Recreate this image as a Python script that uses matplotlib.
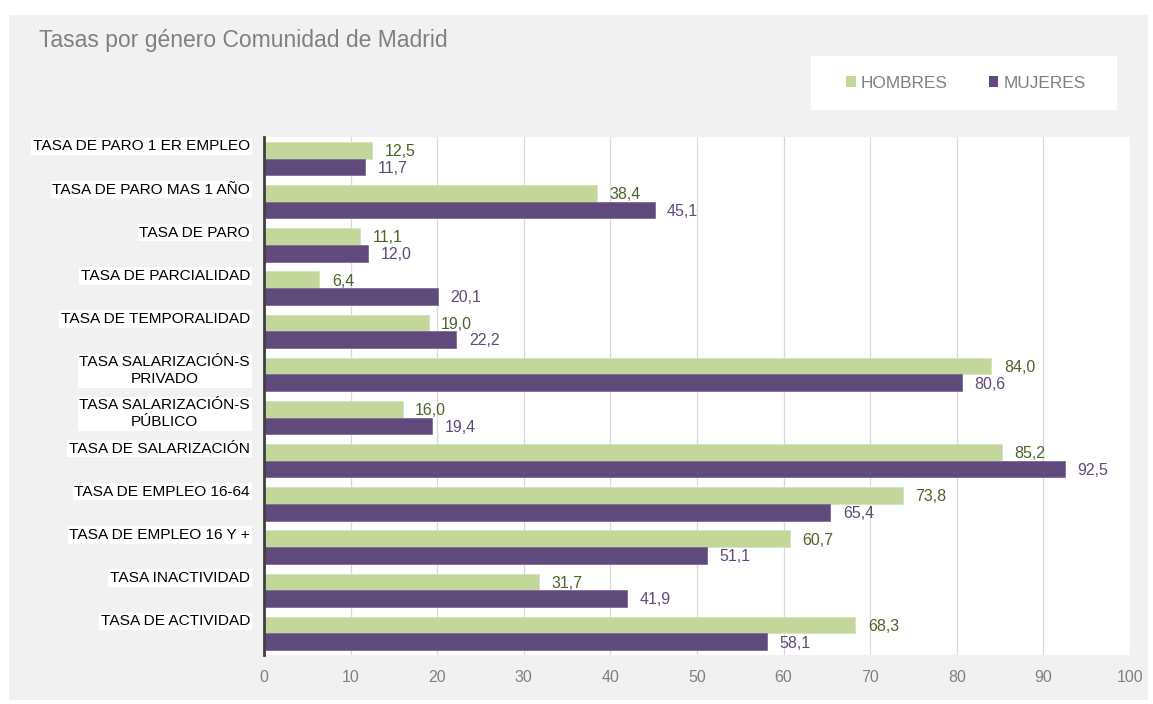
import matplotlib
matplotlib.use("Agg")
import matplotlib.pyplot as plt
from matplotlib.patches import Rectangle, Patch
import numpy as np

plt.rcParams['font.family'] = ['Liberation Sans', 'DejaVu Sans']

categories = [
    "TASA DE PARO 1 ER EMPLEO",
    "TASA DE PARO MAS 1 AÑO",
    "TASA DE PARO",
    "TASA DE PARCIALIDAD",
    "TASA DE TEMPORALIDAD",
    "TASA SALARIZACIÓN-S\nPRIVADO",
    "TASA SALARIZACIÓN-S\nPÚBLICO",
    "TASA DE SALARIZACIÓN",
    "TASA DE EMPLEO 16-64",
    "TASA DE EMPLEO 16 Y +",
    "TASA INACTIVIDAD",
    "TASA DE ACTIVIDAD",
]
hombres = [12.5, 38.4, 11.1, 6.4, 19.0, 84.0, 16.0, 85.2, 73.8, 60.7, 31.7, 68.3]
mujeres = [11.7, 45.1, 12.0, 20.1, 22.2, 80.6, 19.4, 92.5, 65.4, 51.1, 41.9, 58.1]
series_names = ["HOMBRES", "MUJERES"]
xticks = list(range(0, 101, 10))

c_h = "#c4d79b"
c_m = "#604a7b"
c_h_lab = "#4f6228"
c_m_lab = "#604a7b"

W, H = 1153, 704
fig = plt.figure(figsize=(W / 100, H / 100), dpi=100)
fig.patch.set_facecolor("white")

# gray panel
fig.patches.append(Rectangle((9 / W, 1 - 700 / H), (1148 - 9) / W, (700 - 15) / H,
                             transform=fig.transFigure, facecolor="#f1f1f1",
                             edgecolor="none", zorder=-2))
# legend white box
fig.patches.append(Rectangle((811 / W, 1 - 110 / H), (1117 - 811) / W, (110 - 56) / H,
                             transform=fig.transFigure, facecolor="white",
                             edgecolor="none", zorder=-1))

ax = fig.add_axes([264 / W, 1 - 655 / H, (1130 - 264) / W, (655 - 137) / H])
ax.set_zorder(2)
ax.set_facecolor("white")

y = np.arange(len(categories))
bh = 0.385
ax.barh(y - bh / 2, hombres, height=bh, color=c_h, edgecolor="#d6e3bc", linewidth=0.6, zorder=3)
ax.barh(y + bh / 2, mujeres, height=bh, color=c_m, edgecolor="#7f6a9a", linewidth=0.6, zorder=3)

ax.set_xlim(0, 100)
ax.set_ylim(len(categories) - 0.5, -0.5)
ax.set_xticks(xticks)
ax.set_xticklabels([str(t) for t in xticks])
ax.set_yticks([])
ax.tick_params(axis='x', length=0, pad=11, labelsize=11.5, labelcolor="#808080")
ax.grid(axis='x', color="#d9d9d9", linewidth=0.9, zorder=0)
ax.set_axisbelow(True)
for s in ["top", "right", "bottom"]:
    ax.spines[s].set_visible(False)
ax.spines["left"].set_color("#404040")
ax.spines["left"].set_linewidth(2)
ax.spines["left"].set_zorder(5)

def fmt(v):
    return f"{v:.1f}".replace(".", ",")

for i, (h, m) in enumerate(zip(hombres, mujeres)):
    ax.annotate(fmt(h), (h, i - bh / 2), xytext=(9, -1), textcoords="offset points",
                ha="left", va="center", fontsize=11.5, color=c_h_lab, zorder=4)
    ax.annotate(fmt(m), (m, i + bh / 2), xytext=(9, -1), textcoords="offset points",
                ha="left", va="center", fontsize=11.5, color=c_m_lab, zorder=4)

# category labels (top aligned with bars)
trans = matplotlib.transforms.blended_transform_factory(ax.transAxes, ax.transData)
for i, cat in enumerate(categories):
    ax.text(-14 / (1130 - 264), i - bh - 0.06, cat, transform=trans, ha="right", va="top",
            multialignment="center", fontsize=11.1, color="black", linespacing=1.25,
            bbox=dict(facecolor="white", edgecolor="none", pad=1.2), clip_on=False)

fig.text(39 / W, 1 - 41 / H, "Tasas por género Comunidad de Madrid", fontsize=16.5,
         color="#808080", ha="left", va="center")

handles = [Patch(facecolor=c_h, edgecolor="none"), Patch(facecolor=c_m, edgecolor="none")]
fig.legend(handles, series_names, loc="center", bbox_to_anchor=(966 / W, 1 - 83 / H),
           ncol=2, frameon=False, fontsize=12.4, labelcolor="#808080",
           handlelength=0.55, handleheight=0.55, handletextpad=0.3, columnspacing=2.4)

fig.savefig("out.png", dpi=100, facecolor="white")
